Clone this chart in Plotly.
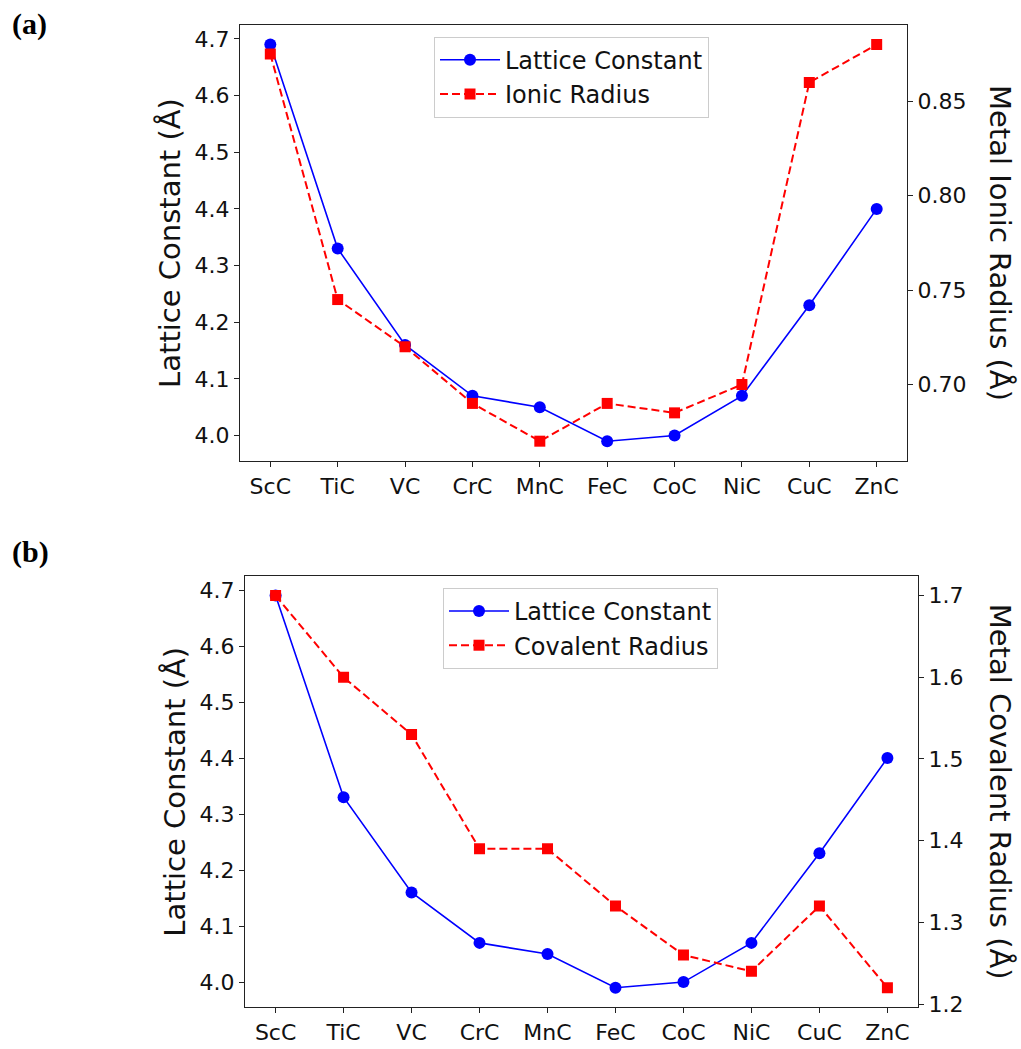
import plotly.graph_objects as go

compounds = ["ScC", "TiC", "VC", "CrC", "MnC", "FeC", "CoC", "NiC", "CuC", "ZnC"]
lattice_constant = [4.69, 4.33, 4.16, 4.07, 4.05, 3.99, 4.00, 4.07, 4.23, 4.40]
ionic_radius = [0.875, 0.745, 0.720, 0.690, 0.670, 0.690, 0.685, 0.700, 0.860, 0.880]
covalent_radius = [1.70, 1.60, 1.53, 1.39, 1.39, 1.32, 1.26, 1.24, 1.32, 1.22]

W, H = 1021, 1049
FONT = "DejaVu Sans"
TICK = 22
TITLE = 29
LEG = 24

def px_x(p):
    return p / W

def px_y(p):
    return 1 - p / H

idx = list(range(len(compounds)))

fig = go.Figure()

blue = "#0000ff"
red = "#ff0000"

def add_pair(xa, ya_left, ya_right, right_vals, right_name, legend):
    fig.add_trace(go.Scatter(
        x=idx, y=lattice_constant, name="Lattice Constant", mode="lines+markers",
        line=dict(color=blue, width=1.6), marker=dict(symbol="circle", size=12, color=blue),
        xaxis=xa, yaxis=ya_left, legend=legend))
    fig.add_trace(go.Scatter(
        x=idx, y=right_vals, name=right_name, mode="lines+markers",
        line=dict(color=red, width=2, dash="8px,4px"), marker=dict(symbol="square", size=11, color=red),
        xaxis=xa, yaxis=ya_right, legend=legend))

add_pair("x", "y", "y2", ionic_radius, "Ionic Radius", "legend")
add_pair("x2", "y3", "y4", covalent_radius, "Covalent Radius", "legend2")

def margin_range(vals):
    lo, hi = min(vals), max(vals)
    m = (hi - lo) * 0.05
    return [lo - m, hi + m]

axis_common = dict(
    showline=True, linecolor="#222222", linewidth=1.2, ticks="outside", ticklen=5,
    tickwidth=1.2, tickcolor="#222222", showgrid=False, zeroline=False,
    tickfont=dict(family=FONT, size=TICK, color="#111111"),
)

dom_a_x = [px_x(240), px_x(907)]
dom_a_y = [px_y(465), px_y(25)]
dom_b_x = [px_x(245), px_x(918)]
dom_b_y = [px_y(1016), px_y(581)]

xr = [-0.45, len(compounds) - 1 + 0.45]

fig.update_layout(
    width=W, height=H, margin=dict(l=0, r=0, t=0, b=0),
    paper_bgcolor="white", plot_bgcolor="white",
    font=dict(family=FONT, color="#111111"),
    xaxis=dict(domain=dom_a_x, anchor="y", range=xr, tickmode="array", tickvals=idx,
               ticktext=compounds, mirror=True, **axis_common),
    yaxis=dict(domain=dom_a_y, anchor="x", range=margin_range(lattice_constant),
               tickmode="array", tickvals=[4.0, 4.1, 4.2, 4.3, 4.4, 4.5, 4.6, 4.7],
               tickformat=".1f", **axis_common),
    yaxis2=dict(overlaying="y", side="right", anchor="x", range=margin_range(ionic_radius),
                tickmode="array", tickvals=[0.70, 0.75, 0.80, 0.85], tickformat=".2f",
                **axis_common),
    xaxis2=dict(domain=dom_b_x, anchor="y3", range=xr, tickmode="array", tickvals=idx,
                ticktext=compounds, mirror=True, **axis_common),
    yaxis3=dict(domain=dom_b_y, anchor="x2", range=margin_range(lattice_constant),
                tickmode="array", tickvals=[4.0, 4.1, 4.2, 4.3, 4.4, 4.5, 4.6, 4.7],
                tickformat=".1f", **axis_common),
    yaxis4=dict(overlaying="y3", side="right", anchor="x2", range=margin_range(covalent_radius),
                tickmode="array", tickvals=[1.2, 1.3, 1.4, 1.5, 1.6, 1.7], tickformat=".1f",
                **axis_common),
    legend=dict(x=px_x(434), y=px_y(37), xanchor="left", yanchor="top",
                bgcolor="rgba(255,255,255,0.8)", bordercolor="#cccccc", borderwidth=1,
                font=dict(family=FONT, size=LEG, color="#111111"), itemwidth=60,
                tracegroupgap=0),
    legend2=dict(x=px_x(443), y=px_y(593), xanchor="left", yanchor="top",
                 bgcolor="rgba(255,255,255,0.8)", bordercolor="#cccccc", borderwidth=1,
                 font=dict(family=FONT, size=LEG, color="#111111"), itemwidth=60,
                 tracegroupgap=0),
    showlegend=True,
)

annotations = [
    dict(text="<b>(a)</b>", x=px_x(10), y=px_y(24), xanchor="left", yanchor="middle",
         font=dict(family="Liberation Serif", size=30, color="black")),
    dict(text="<b>(b)</b>", x=px_x(10), y=px_y(557), xanchor="left", yanchor="middle",
         font=dict(family="Liberation Serif", size=30, color="black")),
    dict(text="Lattice Constant (Å)", x=px_x(170), y=(dom_a_y[0] + dom_a_y[1]) / 2,
         textangle=-90, xanchor="center", yanchor="middle",
         font=dict(family=FONT, size=TITLE, color="#111111")),
    dict(text="Metal Ionic Radius (Å)", x=px_x(1000), y=(dom_a_y[0] + dom_a_y[1]) / 2,
         textangle=90, xanchor="center", yanchor="middle",
         font=dict(family=FONT, size=TITLE, color="#111111")),
    dict(text="Lattice Constant (Å)", x=px_x(175), y=(dom_b_y[0] + dom_b_y[1]) / 2,
         textangle=-90, xanchor="center", yanchor="middle",
         font=dict(family=FONT, size=TITLE, color="#111111")),
    dict(text="Metal Covalent Radius (Å)", x=px_x(1000), y=(dom_b_y[0] + dom_b_y[1]) / 2,
         textangle=90, xanchor="center", yanchor="middle",
         font=dict(family=FONT, size=TITLE, color="#111111")),
]
for a in annotations:
    a.update(xref="paper", yref="paper", showarrow=False)
fig.update_layout(annotations=annotations)

fig.write_html("out.html", config={"displayModeBar": False},
               post_script="document.body.style.margin='0';document.body.style.overflow='hidden';")
